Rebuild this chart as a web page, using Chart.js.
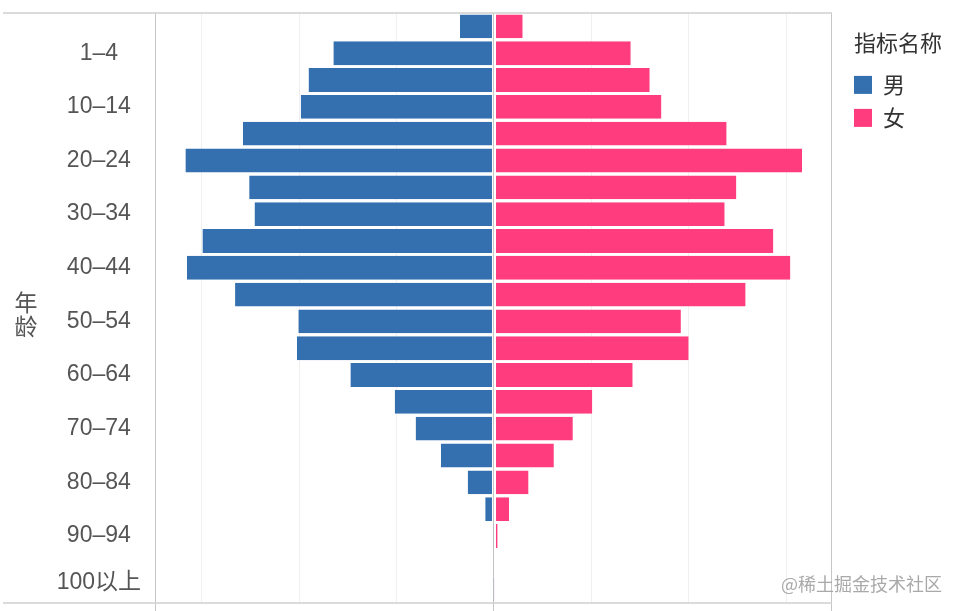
<!DOCTYPE html>
<html>
<head>
<meta charset="utf-8">
<title>年龄结构</title>
<script src="https://cdn.jsdelivr.net/npm/chart.js@4/dist/chart.umd.min.js"></script>
<style>
    html, body { margin: 0; padding: 0; background: #fff; }
    canvas { display: block; }
</style>
</head>
<body>
<canvas id="myChart" width="960" height="611"></canvas>
<script>
// age groups, top to bottom
const ages = ['0', '1–4', '5–9', '10–14', '15–19', '20–24', '25–29', '30–34', '35–39', '40–44', '45–49',
    '50–54', '55–59', '60–64', '65–69', '70–74', '75–79', '80–84', '85–89', '90–94', '95–99', '100以上'];
// population, millions
const male = [7.0, 33.0, 38.1, 39.7, 51.6, 63.4, 50.3, 49.2, 59.9, 63.1, 53.2,
    40.2, 40.5, 29.5, 20.4, 16.1, 10.9, 5.4, 1.8, 0.2, 0.05, 0.01];
const female = [5.9, 28.1, 32.0, 34.4, 47.8, 63.3, 49.8, 47.4, 57.4, 60.9, 51.7,
    38.4, 40.0, 28.5, 20.2, 16.2, 12.3, 7.1, 3.1, 0.75, 0.13, 0.03];
const gridTicks = [-60, -40, -20, 0, 20, 40, 60];
const seriesNames = ['男', '女'];
const legendTitle = '指标名称';
const axisTitle = ['年', '龄'];
const watermark = '@稀土掘金技术社区';

const FONT = '"Liberation Sans", "Noto Sans CJK SC", sans-serif';
const CJK = '"Noto Sans CJK SC", sans-serif';

const decor = {
    id: 'decor',
    afterLayout(chart) {
        // legend box is clipped when drawn; let the title run to the edge
        const lg = chart.legend;
        lg.right = chart.width;
        lg.width = lg.right - lg.left;
    },
    beforeDatasetsDraw(chart) {
        const { ctx, chartArea: a } = chart;
        ctx.save();
        ctx.strokeStyle = '#d0d0d0';
        ctx.lineWidth = 1.5;
        ctx.beginPath();
        ctx.moveTo(3, a.top);
        ctx.lineTo(a.right, a.top);
        ctx.moveTo(3, a.bottom);
        ctx.lineTo(a.right, a.bottom);
        ctx.stroke();
        // upright stacked axis title
        ctx.fillStyle = '#555';
        ctx.font = '23px ' + CJK;
        ctx.textAlign = 'center';
        ctx.textBaseline = 'middle';
        const mid = (a.top + a.bottom) / 2;
        ctx.fillText(axisTitle[0], 26, mid - 6);
        ctx.fillText(axisTitle[1], 26, mid + 18);
        ctx.restore();
    },
    afterDraw(chart) {
        const ctx = chart.ctx;
        ctx.save();
        ctx.font = '18px ' + CJK;
        ctx.textAlign = 'right';
        ctx.textBaseline = 'middle';
        ctx.fillStyle = '#a9a9a9';
        ctx.fillText(watermark, 942, 584);
        ctx.restore();
    }
};

const strong = (c) => c.index === 0 || c.index === c.scale.ticks.length - 1 || c.tick.value === 0;

new Chart(document.getElementById('myChart'), {
    type: 'bar',
    data: {
        labels: ages,
        datasets: [
            {
                label: seriesNames[0],
                data: male.map(v => -v),
                backgroundColor: '#3470B0',
                borderColor: 'rgba(0,0,0,0)',
                borderWidth: { top: 0, right: 1.5, bottom: 0, left: 0 },
                borderSkipped: false,
                inflateAmount: 0
            },
            {
                label: seriesNames[1],
                data: female,
                backgroundColor: '#FE3C7E',
                borderColor: 'rgba(0,0,0,0)',
                borderWidth: { top: 0, right: 0, bottom: 0, left: 1.5 },
                borderSkipped: false,
                inflateAmount: 0
            }
        ]
    },
    options: {
        indexAxis: 'y',
        responsive: false,
        animation: false,
        categoryPercentage: 1,
        barPercentage: 0.89,
        layout: { padding: { top: 13, right: 45, bottom: 0, left: 0 } },
        plugins: {
            tooltip: { enabled: false },
            legend: {
                position: 'right',
                align: 'start',
                title: {
                    display: true,
                    text: legendTitle,
                    position: 'start',
                    color: '#333',
                    font: { family: CJK, size: 22 },
                    padding: { top: 18.5, bottom: 16 }
                },
                labels: {
                    boxWidth: 18,
                    boxHeight: 18,
                    padding: 0,
                    color: '#333',
                    font: { family: CJK, size: 22, lineHeight: 1.5 },
                    generateLabels: (chart) => Chart.defaults.plugins.legend.labels.generateLabels(chart)
                        .map(l => Object.assign(l, { text: [l.text], lineWidth: 0 }))
                }
            }
        },
        scales: {
            x: {
                stacked: true,
                min: -69.65,
                max: 69.45,
                afterBuildTicks: (s) => {
                    s.ticks = [s.min].concat(gridTicks, [s.max]).map(v => ({ value: v }));
                },
                ticks: { display: false },
                border: { display: false },
                grid: {
                    lineWidth: 1,
                    tickLength: 8,
                    color: (c) => strong(c) ? '#c6c6c6' : '#f0f0f0',
                    tickColor: (c) => strong(c) ? '#c6c6c6' : 'rgba(0,0,0,0)'
                }
            },
            y: {
                stacked: true,
                grid: { display: false, drawTicks: false },
                border: { display: false },
                ticks: {
                    autoSkip: false,
                    crossAlign: 'center',
                    padding: 14,
                    color: '#555',
                    font: (c) => ({ family: FONT, size: 23, lineHeight: c.index === ages.length - 1 ? 0.6 : 1.2 }),
                    callback: function (v, i) {
                        if (i % 2 === 0) return '';
                        return i === ages.length - 1 ? [ages[i], ''] : ages[i];
                    }
                },
                afterFit: (s) => {
                    s.width = 155;
                    s.paddingTop = 0;
                    s.paddingBottom = 0;
                }
            },
            gap: {
                axis: 'y',
                type: 'category',
                position: 'right',
                grid: { display: false, drawTicks: false },
                border: { display: false },
                ticks: { display: false },
                afterFit: (s) => { s.width = 22; }
            }
        }
    },
    plugins: [decor]
});
</script>
</body>
</html>
